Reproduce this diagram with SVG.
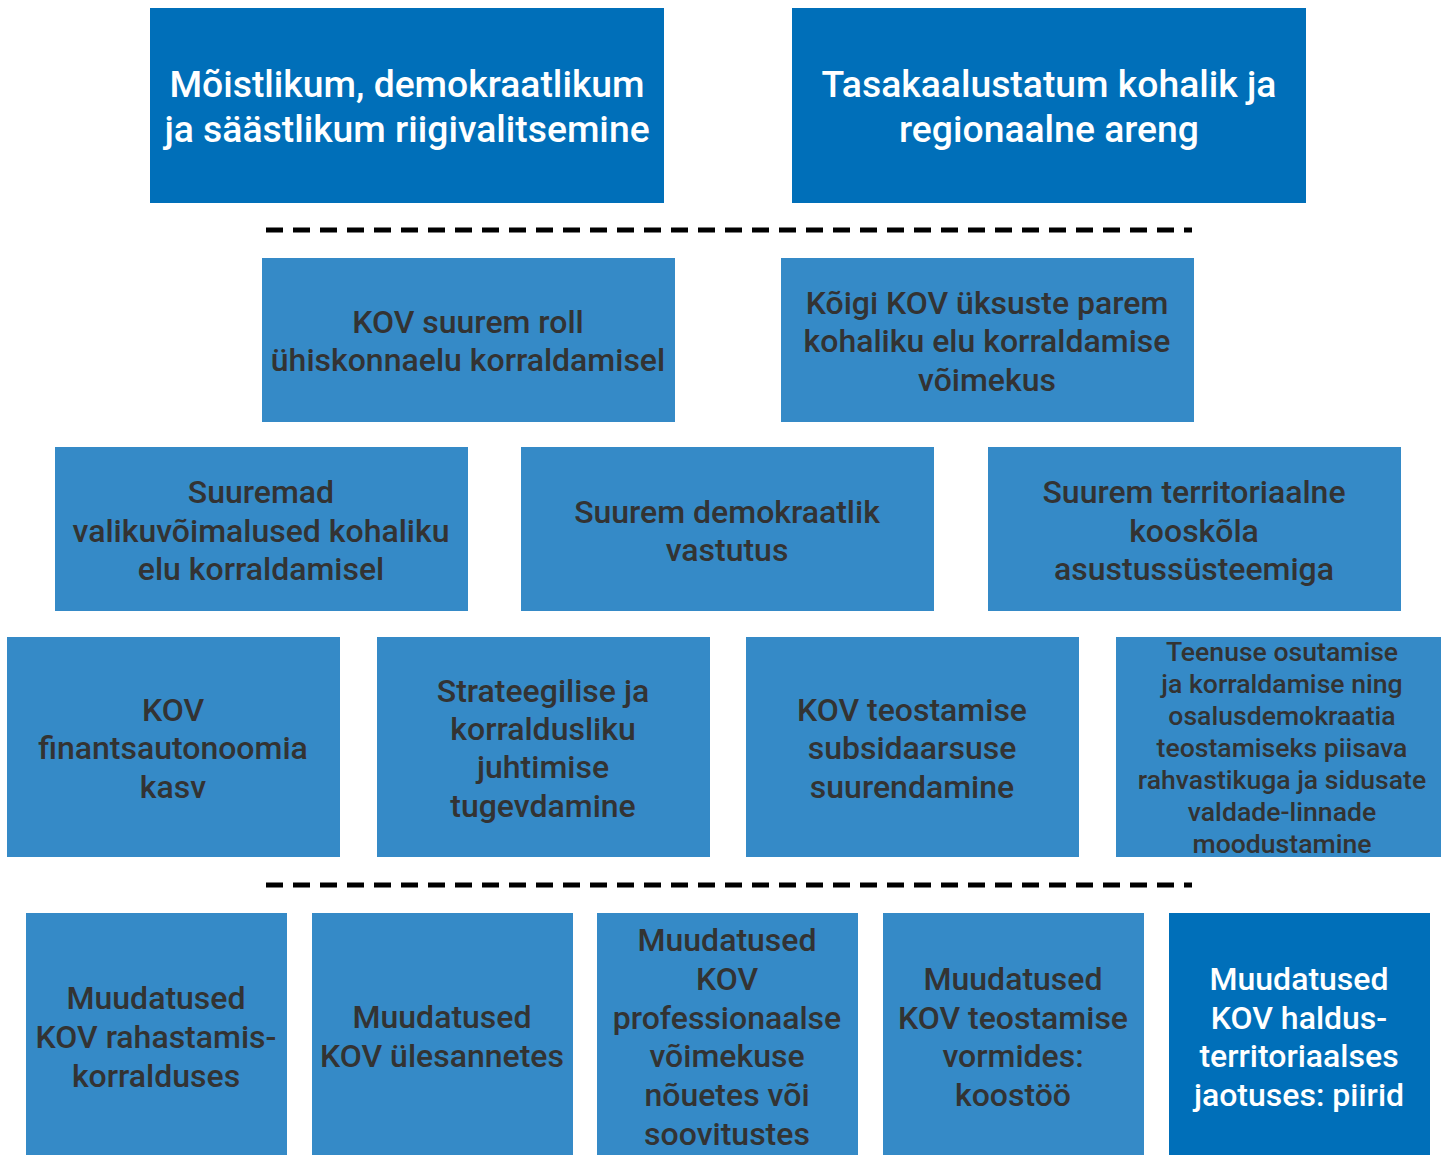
<svg xmlns="http://www.w3.org/2000/svg" width="1441" height="1155" viewBox="0 0 1441 1155">
<style>
.dk{fill:#006FB9}
.lt{fill:#358AC7}
text{font-family:Roboto,"Liberation Sans",sans-serif;text-anchor:middle;font-weight:500}
.w{fill:#ffffff;font-size:37.3px}
.g{fill:#333333;font-size:32px}
.g5{fill:#333333;font-size:32px}
.w5{fill:#ffffff;font-size:32px}
.s{fill:#333333;font-size:26.6px}
.dash{stroke:#000;stroke-width:5;stroke-dasharray:17 10;fill:none}
</style>
<rect width="1441" height="1155" fill="#ffffff"/>
<g id="connectors">
<line class="dash" x1="266" y1="230" x2="1192" y2="230"/>
<line class="dash" x1="266" y1="885" x2="1192" y2="885"/>
</g>
<g id="n1"><rect class="dk" x="150" y="8" width="514" height="195"/>
<text class="w" x="407" y="97">Mõistlikum, demokraatlikum</text><text class="w" x="407" y="142">ja säästlikum riigivalitsemine</text></g>
<g id="n2"><rect class="dk" x="792" y="8" width="514" height="195"/>
<text class="w" x="1049" y="97">Tasakaalustatum kohalik ja</text><text class="w" x="1049" y="142">regionaalne areng</text></g>
<g id="n3"><rect class="lt" x="262" y="258" width="413" height="164"/>
<text class="g" x="468" y="333">KOV suurem roll</text><text class="g" x="468" y="371">ühiskonnaelu korraldamisel</text></g>
<g id="n4"><rect class="lt" x="781" y="258" width="413" height="164"/>
<text class="g" x="987" y="314">Kõigi KOV üksuste parem</text><text class="g" x="987" y="352">kohaliku elu korraldamise</text><text class="g" x="987" y="391">võimekus</text></g>
<g id="n5"><rect class="lt" x="55" y="447" width="413" height="164"/>
<text class="g" x="261" y="503">Suuremad</text><text class="g" x="261" y="542">valikuvõimalused kohaliku</text><text class="g" x="261" y="580">elu korraldamisel</text></g>
<g id="n6"><rect class="lt" x="521" y="447" width="413" height="164"/>
<text class="g" x="727" y="523">Suurem demokraatlik</text><text class="g" x="727" y="561">vastutus</text></g>
<g id="n7"><rect class="lt" x="988" y="447" width="413" height="164"/>
<text class="g" x="1194" y="503">Suurem territoriaalne</text><text class="g" x="1194" y="542">kooskõla</text><text class="g" x="1194" y="580">asustussüsteemiga</text></g>
<g id="n8"><rect class="lt" x="7" y="637" width="333" height="220"/>
<text class="g" x="173" y="721">KOV</text><text class="g" x="173" y="759">finantsautonoomia</text><text class="g" x="173" y="798">kasv</text></g>
<g id="n9"><rect class="lt" x="377" y="637" width="333" height="220"/>
<text class="g" x="543" y="702">Strateegilise ja</text><text class="g" x="543" y="740">korraldusliku</text><text class="g" x="543" y="778">juhtimise</text><text class="g" x="543" y="817">tugevdamine</text></g>
<g id="n10"><rect class="lt" x="746" y="637" width="333" height="220"/>
<text class="g" x="912" y="721">KOV teostamise</text><text class="g" x="912" y="759">subsidaarsuse</text><text class="g" x="912" y="798">suurendamine</text></g>
<g id="n11"><rect class="lt" x="1116" y="637" width="325" height="220"/>
<text class="s" x="1282" y="661">Teenuse osutamise</text><text class="s" x="1282" y="693">ja korraldamise ning</text><text class="s" x="1282" y="725">osalusdemokraatia</text><text class="s" x="1282" y="757">teostamiseks piisava</text><text class="s" x="1282" y="789">rahvastikuga ja sidusate</text><text class="s" x="1282" y="821">valdade-linnade</text><text class="s" x="1282" y="853">moodustamine</text></g>
<g id="n12"><rect class="lt" x="26" y="913" width="261" height="242"/>
<text class="g5" x="156" y="1009">Muudatused</text><text class="g5" x="156" y="1048">KOV rahastamis-</text><text class="g5" x="156" y="1087">korralduses</text></g>
<g id="n13"><rect class="lt" x="312" y="913" width="261" height="242"/>
<text class="g5" x="442" y="1028">Muudatused</text><text class="g5" x="442" y="1067">KOV ülesannetes</text></g>
<g id="n14"><rect class="lt" x="597" y="913" width="261" height="242"/>
<text class="g5" x="727" y="951">Muudatused</text><text class="g5" x="727" y="990">KOV</text><text class="g5" x="727" y="1029">professionaalse</text><text class="g5" x="727" y="1067">võimekuse</text><text class="g5" x="727" y="1106">nõuetes või</text><text class="g5" x="727" y="1145">soovitustes</text></g>
<g id="n15"><rect class="lt" x="883" y="913" width="261" height="242"/>
<text class="g5" x="1013" y="990">Muudatused</text><text class="g5" x="1013" y="1029">KOV teostamise</text><text class="g5" x="1013" y="1067">vormides:</text><text class="g5" x="1013" y="1106">koostöö</text></g>
<g id="n16"><rect class="dk" x="1169" y="913" width="261" height="242"/>
<text class="w5" x="1299" y="990">Muudatused</text><text class="w5" x="1299" y="1029">KOV haldus-</text><text class="w5" x="1299" y="1067">territoriaalses</text><text class="w5" x="1299" y="1106">jaotuses: piirid</text></g>
</svg>
